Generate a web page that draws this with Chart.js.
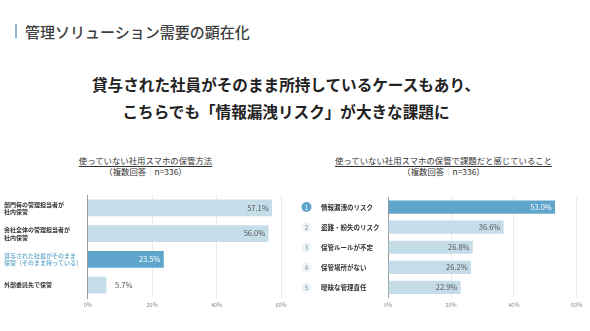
<!DOCTYPE html>
<html><head><meta charset="utf-8">
<script src="https://cdn.jsdelivr.net/npm/chart.js@4.4.0/dist/chart.umd.min.js"></script>
<style>
body{margin:0;width:590px;height:331px;background:#fff;font-family:"Noto Sans CJK JP","Noto Sans",sans-serif;color:#333;position:relative;overflow:hidden}
.hd{position:absolute;left:25px;top:21px;font-size:15px;font-weight:500;color:#404040;letter-spacing:0}
.bar{position:absolute;left:15px;top:24px;width:2px;height:14px;background:#8fb9d0}
.lead{position:absolute;left:0;width:572px;text-align:center;font-size:15.6px;font-weight:700;color:#222}
.st{position:absolute;width:295px;text-align:center;font-size:8.4px;line-height:11px;color:#333}
.st u{text-underline-offset:2px}
.st .sep{color:#bbb}
canvas{position:absolute}
</style></head>
<body>
<div class="bar"></div>
<div class="hd">管理ソリューション需要の顕在化</div>
<div class="lead" style="top:73px">貸与された社員がそのまま所持しているケースもあり、</div>
<div class="lead" style="top:100px">こちらでも「情報漏洩リスク」が大きな課題に</div>
<div class="st" style="left:-2px;top:155px"><u>使っていない社用スマホの保管方法</u><br>（複数回答<span class="sep">｜</span>n=336）</div>
<div class="st" style="left:296px;top:155px"><u>使っていない社用スマホの保管で課題だと感じていること</u><br>（複数回答<span class="sep">｜</span>n=336）</div>
<div style="position:absolute;left:0;top:185px;width:295px;height:130px"><canvas id="c1"></canvas></div>
<div style="position:absolute;left:295px;top:185px;width:295px;height:130px"><canvas id="c2"></canvas></div>
<script>
// 保管方法
const storageLabels=[['部門毎の管理担当者が','社内保管'],['会社全体の管理担当者が','社内保管'],['貸与された社員がそのまま','保管（そのまま持っている）'],'外部委託先で保管'];
const storageValues=[57.1,56.0,23.5,5.7];
const storageHighlight=2;
// 課題
const issueLabels=['情報漏洩のリスク','盗難・紛失のリスク','保管ルールが不定','保管場所がない','曖昧な管理責任'];
const issueValues=[53.0,36.6,26.8,26.2,22.9];
const issueHighlight=0;
const xTicks=['0%','20%','40%','60%'];

const LIGHT='#c5dde9', DARK='#5fa4ca';
const FONT='"Noto Sans CJK JP","Noto Sans",sans-serif';

const valueLabels=(hi)=>({
  id:'valueLabels',
  afterDatasetsDraw(chart){
    const ctx=chart.ctx;
    const meta=chart.getDatasetMeta(0);
    ctx.save();
    ctx.font='7.5px '+FONT;
    ctx.textBaseline='middle';
    meta.data.forEach((bar,i)=>{
      const txt=chart.data.datasets[0].data[i].toFixed(1)+'%';
      const w=ctx.measureText(txt).width;
      const len=bar.x-bar.base;
      if(len>w+8){
        ctx.textAlign='right';
        ctx.fillStyle=i===hi?'#fff':'#555';
        ctx.fillText(txt,bar.x-3,bar.y);
      }else{
        ctx.textAlign='left';
        ctx.fillStyle='#555';
        ctx.fillText(txt,bar.x+9,bar.y);
      }
    });
    ctx.restore();
  }
});

const rankCircles={
  id:'rankCircles',
  afterDraw(chart){
    const ctx=chart.ctx, y=chart.scales.y;
    ctx.save();
    issueLabels.forEach((l,i)=>{
      const py=y.getPixelForValue(i);
      ctx.beginPath();
      ctx.arc(11.5,py,5,0,Math.PI*2);
      ctx.fillStyle=i===issueHighlight?DARK:'#edf4f8';
      ctx.fill();
      ctx.font='6px '+FONT;
      ctx.textAlign='center';ctx.textBaseline='middle';
      ctx.fillStyle=i===issueHighlight?'#fff':'#7a8a94';
      ctx.fillText(String(i+1),11.5,py+0.3);
    });
    ctx.restore();
  }
};

function makeChart(id,labels,values,hi,opt){
  return new Chart(document.getElementById(id),{
    type:'bar',
    data:{labels,datasets:[{data:values,
      backgroundColor:values.map((v,i)=>i===hi?DARK:LIGHT),
      barThickness:opt.thick,borderWidth:0}]},
    options:{
      indexAxis:'y',responsive:true,maintainAspectRatio:false,animation:false,
      layout:{padding:{left:opt.padLeft,right:opt.padRight,top:opt.padTop,bottom:0}},
      plugins:{legend:{display:false},tooltip:{enabled:false}},
      scales:{
        x:{min:0,max:60,
          ticks:{stepSize:20,padding:4,color:'#888',font:{size:5.5,family:FONT},
            callback:(v)=>xTicks[v/20]},
          grid:{drawTicks:false,color:(c)=>c.tick&&c.tick.value===0?'rgba(0,0,0,0)':'#ebebeb',lineWidth:1},
          border:{display:false},
          afterFit:(s)=>{s.height=opt.axisH;}
        },
        y:{
          ticks:{crossAlign:'far',padding:0,font:{size:opt.labelSize,family:FONT,weight:'bold'},
            color:(c)=>c.index===hi&&opt.tintLabel?'#79b4d3':'#333'},
          grid:{display:false,drawTicks:false},
          border:{display:true,color:'#9a9a9a',width:1},
          afterFit:(s)=>{s.width=opt.yW;}
        }
      }
    },
    plugins:opt.plugins
  });
}

makeChart('c1',storageLabels,storageValues,storageHighlight,
  {thick:16,padLeft:4,padRight:14,padTop:10,axisH:17,yW:83.7,labelSize:6,tintLabel:true,
   plugins:[valueLabels(storageHighlight)]});
makeChart('c2',issueLabels,issueValues,issueHighlight,
  {thick:12.5,padLeft:26,padRight:13.3,padTop:12,axisH:17.5,yW:67.3,labelSize:6.5,tintLabel:false,
   plugins:[valueLabels(issueHighlight),rankCircles]});
</script>
</body></html>
